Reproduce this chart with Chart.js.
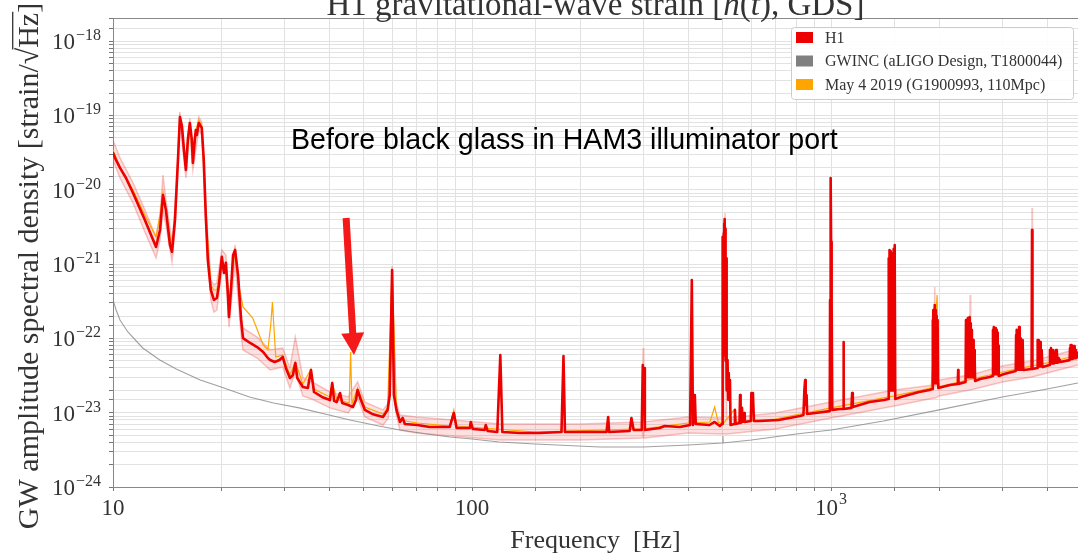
<!DOCTYPE html>
<html><head><meta charset="utf-8">
<script src="https://cdn.jsdelivr.net/npm/chart.js@4.4.1/dist/chart.umd.min.js"></script>
<style>html,body{margin:0;padding:0;background:#fff;overflow:hidden}canvas{display:block}</style>
</head><body>
<canvas id="c" width="1078" height="560"></canvas>
<script>
// ---------- DATA ----------
// H1 spectrum, 10-490 Hz
const h1LowFreq = [
 10,10.19,10.46,10.87,11.37,12.27,13.18,13.52,13.78,14.04,
 14.41,14.6,14.88,15.17,15.36,15.56,15.76,15.96,16.16,16.37,
 16.58,16.69,16.9,17.01,17.12,17.34,17.67,17.9,18.13,18.37,
 18.73,19.1,19.47,19.73,20.1,20.37,20.63,20.9,21.04,21.31,
 21.6,21.88,22.3,22.74,23.02,24.1,25.2,26.2,27.0,27.4,
 28.2,29.1,29.7,30.3,31.1,31.7,32.2,32.6,33.8,34.9,
 35.6,36.3,38.2,40.2,40.8,41.3,42.0,42.9,43.5,45.2,
 46.6,47.5,48.0,48.8,50.3,52.7,56.5,58.2,59.0,59.9,
 60.6,61.6,63.0,64.1,65.0,70.4,76.2,86.7,89.0,90.6,
 98.6,99.2,100.5,108.5,109.2,110.5,117.6,119.9,121.5,136,
 154,177.5,179.8,181.5,213,237,239.5,241,275,278,
 282,297,299,300.5,301.5,303,333,344,379,405,
 409.5,412.5,417.5,420,459,474,490];
const h1LowVal = [
 3.13e-20,2.52e-20,1.97e-20,1.44e-20,9.06e-21,3.93e-21,1.7e-21,2.88e-21,8.51e-21,5.35e-21,
 1.81e-21,1.46e-21,3.93e-21,2.52e-20,9.55e-20,7.23e-20,3.44e-20,1.85e-20,4.68e-20,7.93e-20,
 4.68e-20,2.3e-20,4.68e-20,6.38e-20,5.47e-20,7.93e-20,6.8e-20,2.52e-20,4.58e-21,1.14e-21,
 4.48e-22,3.29e-22,3.5e-22,5.24e-22,1.25e-21,7.59e-22,1.04e-21,3.84e-22,1.94e-22,4.48e-22,
 1.32e-21,1.55e-21,7.13e-22,1.77e-22,1.01e-22,8.67e-23,7.65e-23,6.56e-23,5.44e-23,5.12e-23,
 4.81e-23,5.12e-23,5.62e-23,4.0e-23,2.93e-23,3.21e-23,4.67e-23,2.93e-23,2.22e-23,2.15e-23,
 3.76e-23,1.9e-23,1.63e-23,1.48e-23,2.51e-23,1.44e-23,1.39e-23,1.84e-23,1.35e-23,1.27e-23,
 1.19e-23,1.48e-23,2.02e-23,1.58e-23,1.09e-23,9.61e-24,8.75e-24,1.09e-23,1.73e-23,8.34e-22,
 1.73e-23,1.09e-23,7.5e-24,8.49e-24,7.05e-24,6.83e-24,6.43e-24,6.43e-24,9.91e-24,6.22e-24,
 6.22e-24,7.5e-24,6.04e-24,5.85e-24,6.83e-24,5.68e-24,5.5e-24,5.98e-23,5.5e-24,5.33e-24,
 5.33e-24,5.5e-24,5.79e-23,5.5e-24,5.5e-24,5.5e-24,8.75e-24,5.5e-24,5.68e-24,8.49e-24,
 5.85e-24,5.85e-24,4.39e-23,1.48e-23,4.0e-23,5.85e-24,6.22e-24,6.62e-24,6.43e-24,6.83e-24,
 6.11e-22,6.83e-24,1.73e-23,7.05e-24,6.83e-24,7.5e-24,6.62e-24];
// H1 spectrum, 497-1008 Hz (violin modes, 1 kHz line)
const h1MidFreq = [
 497,498,499,500,501,502,503,504,505,506,
 507,508,509,510,511,512,513,515,517,519,
 521,523,525,538,540,542,556,558,560,565,
 567,573,575,598,600,603,606,610,633,715,
 820,838,843,847,850,855,858,992,994,996,
 998,999,1000.5,1002,1004,1006,1008];
const h1MidVal = [
 7.05e-24,1.55e-21,5e-23,2.32e-21,6e-23,2.6e-21,8e-23,3.5e-21,1e-22,4.05e-21,
 1e-22,3.0e-21,5e-23,1.2e-21,3e-23,2e-22,2e-23,5.12e-23,1.5e-23,3.42e-23,
 1.5e-23,2.75e-23,6.83e-24,7.05e-24,1.09e-23,7.05e-24,7.26e-24,1.73e-23,7.26e-24,1.16e-23,
 7.5e-24,9.91e-24,7.5e-24,7.73e-24,1.84e-23,1.48e-23,1.84e-23,7.73e-24,7.73e-24,7.98e-24,
 9.03e-24,9.31e-24,2.02e-23,2.75e-23,1.27e-23,1.73e-23,9.61e-24,1.05e-23,3.29e-22,2e-23,
 5e-22,1.44e-20,2e-21,3.29e-22,2e-23,3e-22,1.09e-23];
// H1 spectrum, 1060-4870 Hz (harmonic clusters)
const h1HighFreq = [
 1060,1080,1083,1086,1140,1145,1150,1281,1405,
 1445,1448,1451,1454,1457,1460,1463,1466,1469,1472,1475,1478,1481,1484,1487,1490,1493,1496,1499,1502,1505,1507,1510,
 1565,1760,1880,
 1915,1919,1923,1927,1931,1935,1939,1943,1947,1951,1955,1959,1963,1967,1971,1975,1979,1983,1987,1990,
 2145,2255,2260,2265,
 2370,2377,2384,2391,2398,2405,2412,2419,2426,2433,2440,2447,2454,2461,2468,2475,2482,2489,2496,2503,2510,2517,2520,
 2600,2770,
 2820,2826,2832,2838,2844,2850,2856,2862,2868,2874,2880,2886,2892,2898,2904,2910,2916,2922,2928,2935,
 3034,3190,
 3270,3278,3286,3294,3302,3310,3318,3326,3334,3342,3350,3358,3366,3374,3382,3390,3398,3406,3414,3422,3430,3435,
 3620,3630,3640,
 3750,3757,3764,3771,3778,3785,3792,3799,3806,3813,3820,3827,3834,3841,3848,3855,3862,3869,3876,3890,
 4060,4073,4086,4099,4112,4125,4138,4151,4164,4177,4190,4203,4216,4229,4242,4255,4268,4281,4294,4307,4320,4333,4350,
 4620,4632,4644,4656,4668,4680,4692,4704,4716,4728,4740,4752,4764,4776,4788,4800,4812,4824,4836,4848,4860,4870];
const h1HighVal = [
 1.12e-23,1.12e-23,8.95e-23,1.12e-23,1.16e-23,1.84e-23,1.19e-23,1.39e-23,1.48e-23,
 1.53e-23,1.2e-21,2e-23,1.55e-21,2e-23,1.5e-21,2e-23,1.4e-21,2e-23,1.3e-21,2e-23,1.4e-21,2e-23,1.3e-21,2e-23,1.4e-21,2e-23,1.6e-21,2e-23,1.81e-21,2e-23,1.14e-21,1.53e-23,
 1.63e-23,1.9e-23,2.02e-23,
 2.08e-23,1.77e-22,2.5e-23,2.41e-22,2.5e-23,1.3e-22,2.5e-23,2.82e-22,2.5e-23,1.77e-22,2.5e-23,2.41e-22,2.5e-23,2.0e-22,2.5e-23,9.5e-23,2.5e-23,1.77e-22,2.5e-23,2.15e-23,
 2.36e-23,2.43e-23,3.76e-23,2.43e-23,
 2.59e-23,1.77e-22,3e-23,1.3e-22,3e-23,1.88e-22,3e-23,1.51e-22,3e-23,1.94e-22,3e-23,1.6e-22,3e-23,1.3e-22,3e-23,6.98e-23,3e-23,9.5e-23,3e-23,6.98e-23,3e-23,5e-23,2.67e-23,
 2.84e-23,3.02e-23,
 3.12e-23,1.3e-22,3.3e-23,1.42e-22,3.3e-23,1.2e-22,3.3e-23,1.11e-22,3.3e-23,1.38e-22,3.3e-23,9.5e-23,3.3e-23,1.3e-22,3.3e-23,1.2e-22,3.3e-23,8e-23,3.3e-23,3.12e-23,
 3.32e-23,3.53e-23,
 3.64e-23,1.11e-22,3.8e-23,1.3e-22,3.8e-23,1.2e-22,3.8e-23,9.5e-23,3.8e-23,1.42e-22,3.8e-23,1.11e-22,3.8e-23,1e-22,3.8e-23,8.15e-23,3.8e-23,9e-23,3.8e-23,9.5e-23,3.8e-23,3.76e-23,
 3.87e-23,2.88e-21,3.87e-23,
 4.0e-23,8.15e-23,4.2e-23,9.5e-23,4.2e-23,9.5e-23,4.2e-23,6.98e-23,4.2e-23,8.5e-23,4.2e-23,8.95e-23,4.2e-23,7.5e-23,4.2e-23,6.98e-23,4.2e-23,6.98e-23,4.2e-23,4.12e-23,
 4.39e-23,6.98e-23,4.6e-23,7.43e-23,4.6e-23,5.5e-23,4.6e-23,6.98e-23,4.6e-23,6.5e-23,4.7e-23,5.98e-23,4.7e-23,6.98e-23,4.7e-23,6.98e-23,4.7e-23,5.44e-23,4.8e-23,5.44e-23,4.8e-23,5.2e-23,4.81e-23,
 5.1e-23,7.43e-23,5.3e-23,8.15e-23,5.3e-23,8.15e-23,5.3e-23,6.56e-23,5.3e-23,6.56e-23,5.4e-23,7.9e-23,5.4e-23,7.9e-23,5.4e-23,6.98e-23,5.5e-23,6.5e-23,5.5e-23,5.98e-23,5.6e-23,5.79e-23];

// H1 percentile band (upper / lower edges)
const bandFreq = [10,10.46,11.37,12.27,13.18,13.52,13.78,14.04,14.6,14.88,
 15.36,15.96,16.37,16.69,17.34,17.67,18.13,18.73,19.1,19.47,
 20.1,20.63,21.04,21.88,22.74,23.02,25.2,27.4,29.7,31.1,
 32.2,33.8,36.3,40.2,45.2,48.0,50.3,56.5,58.5,59.9,
 61.3,63,70,120,200,298,299.5,301,400,500,
 507,512,700,1000,1500,1935,1945,1955,2000,2430,
 2440,2450,3000,3620,3630,3640,4000,4870];
const bandHi = [4.68e-20,2.68e-20,1.24e-20,5.35e-21,2.32e-21,4.58e-21,1.58e-20,7.3e-21,1.98e-21,5.35e-21,
 1.11e-19,2.52e-20,9.25e-20,2.94e-20,9.55e-20,8.18e-20,6.24e-21,6.11e-22,5.24e-22,5.57e-22,
 1.55e-21,1.32e-21,2.82e-22,1.81e-21,2.26e-22,1.38e-22,1.04e-22,6.98e-23,7.43e-23,4.0e-23,
 1.04e-22,2.93e-23,2.51e-23,1.9e-23,1.63e-23,2.59e-23,1.39e-23,1.09e-23,1.35e-23,9.42e-22,
 1.48e-23,9.31e-24,8.75e-24,7.05e-24,7.05e-24,7.5e-24,7.43e-23,7.5e-24,8.75e-24,8.49e-24,
 4.88e-21,8.49e-24,9.91e-24,1.39e-23,2.02e-23,2.36e-23,4.92e-22,2.36e-23,2.75e-23,3.21e-23,
 3.84e-22,3.21e-23,4.26e-23,4.97e-23,5.69e-21,4.97e-23,5.62e-23,7.19e-23];
const bandLo = [2.52e-20,1.44e-20,6.64e-21,2.7e-21,1.21e-21,2.11e-21,5.35e-21,3.36e-21,1.07e-21,2.88e-21,
 8.18e-20,1.44e-20,6.38e-20,1.85e-20,6.38e-20,5.47e-20,3.36e-21,3.29e-22,2.26e-22,2.41e-22,
 8.87e-22,7.13e-22,1.42e-22,1.07e-21,1.11e-22,6.98e-23,5.44e-23,3.76e-23,4.12e-23,2.15e-23,
 3.53e-23,1.68e-23,1.48e-23,1.16e-23,9.91e-24,1.58e-23,8.75e-24,6.83e-24,8.49e-24,6.11e-22,
 1.02e-23,5.85e-24,5.33e-24,4.29e-24,4.29e-24,4.56e-24,5.85e-24,4.56e-24,5.33e-24,5.16e-24,
 5.16e-24,5.16e-24,6.04e-24,8.49e-24,1.23e-23,1.58e-23,1.58e-23,1.58e-23,1.68e-23,2.02e-23,
 2.02e-23,2.02e-23,2.59e-23,3.02e-23,3.02e-23,3.02e-23,3.42e-23,4.39e-23];

// May 4 2019 reference
const mayFreq = [10,10.46,11.37,12.27,13.18,13.52,13.78,14.04,14.6,14.88,
 15.17,15.36,15.56,15.96,16.37,16.69,17.01,17.34,17.67,18.13,
 18.73,19.1,19.47,20.1,20.37,20.63,21.04,21.88,22.4,23.02,
 24.5,26.2,27.0,27.5,27.8,28.1,28.4,29.7,31.1,32.2,
 33.8,35.6,36.3,40.2,40.8,42.0,45.5,45.9,46.3,48.0,
 50.3,56.5,58.2,59.9,61.6,63.0,70.4,86.7,89.0,90.6,
 150,300,400,460,474,485,500,537,545,700,
 1000,1500,1900,1975,1990,3000,4000,4870];
const mayVal = [3.44e-20,2.03e-20,9.94e-21,4.58e-21,2.32e-21,4.58e-21,9.33e-21,5.35e-21,1.55e-21,3.93e-21,
 2.52e-20,9.55e-20,7.23e-20,1.85e-20,7.93e-20,2.3e-20,6.38e-20,8.69e-20,7.23e-20,5.02e-21,
 5.24e-22,4.48e-22,4.48e-22,1.25e-21,8.87e-22,1.04e-21,3.29e-22,1.46e-21,5.24e-22,2.65e-22,
 1.88e-22,8.15e-23,6.98e-23,1.51e-22,3.09e-22,1.3e-22,5.62e-23,5.98e-23,3.21e-23,4.81e-23,
 2.43e-23,3.87e-23,2.08e-23,1.63e-23,2.51e-23,1.53e-23,1.35e-23,6.56e-23,1.31e-23,2.15e-23,
 1.19e-23,9.61e-24,1.16e-23,7.83e-22,1.16e-23,7.98e-24,7.26e-24,6.62e-24,1.09e-23,6.62e-24,
 5.5e-24,6.04e-24,7.26e-24,7.5e-24,1.19e-23,7.5e-24,7.05e-24,1.09e-23,7.5e-24,8.22e-24,
 1.16e-23,1.68e-23,2.15e-23,3.84e-22,2.22e-23,3.53e-23,4.67e-23,5.98e-23];

// GWINC design curve
const gwFreq = [10,10.2,10.46,11,12.1,13.5,15,17.5,20,24,28,33,40,45.7,55,63,75,86.7,100,119,
 150,227,300,400,499,500,501,600,800,1000,1400,2000,3000,4000,4870];
const gwVal = [3.29e-22,2.41e-22,1.77e-22,1.22e-22,7.43e-23,5.12e-23,3.87e-23,2.75e-23,2.22e-23,1.63e-23,
 1.35e-23,1.16e-23,9.31e-24,7.98e-24,6.62e-24,5.85e-24,5.16e-24,4.71e-24,4.43e-24,4.04e-24,
 3.79e-24,3.45e-24,3.45e-24,3.67e-24,3.91e-24,4.85e-24,3.91e-24,4.29e-24,5.16e-24,5.85e-24,
 7.73e-24,1.09e-23,1.63e-23,2.08e-23,2.51e-23];

const seriesNames = ['H1', 'GWINC (aLIGO Design, T1800044)', 'May 4 2019 (G1900993, 110Mpc)'];
const yTickExps = [-24,-23,-22,-21,-20,-19,-18];
const xTickVals = [10, 100, 1000];
const xTickBase = ['10', '100', '10'];
const xTickSup = ['', '', '3'];
const annotText = 'Before black glass in HAM3 illuminator port';
const annotAt = [31.3, 3.54e-20];
const arrowFrom = [44.6, 4.17e-21];
const arrowTo = [46.9, 5.98e-23];

const h1Freq = [...h1LowFreq, ...h1MidFreq, ...h1HighFreq];
const h1Val = [...h1LowVal, ...h1MidVal, ...h1HighVal];

// ---------- CHART ----------
const xy = (fs, vs) => fs.map((f, i) => ({x: f, y: vs[i]}));
const RED = 'rgb(236,0,0)', GRAY = '#808080', ORANGE = '#ffa500';
const SERIF = '"Liberation Serif", "Times New Roman", serif';

const decor = {
  id: 'decor',
  afterDraw(chart) {
    const {ctx, chartArea: a, scales: {x, y}} = chart;
    ctx.save();
    ctx.strokeStyle = '#888'; ctx.lineWidth = 1;
    ctx.beginPath(); ctx.moveTo(a.left, a.top + 0.5); ctx.lineTo(a.right, a.top + 0.5); ctx.stroke();

    ctx.fillStyle = '#333'; ctx.textBaseline = 'alphabetic'; ctx.textAlign = 'left';
    const BASE = '23px ' + SERIF, SUP = '16px ' + SERIF;
    yTickExps.forEach(e => {
      const py = y.getPixelForValue(Math.pow(10, e));
      const sup = '\u2212' + Math.abs(e);
      ctx.font = SUP; const ws = ctx.measureText(sup).width;
      ctx.font = BASE; const wb = ctx.measureText('10').width;
      const right = a.left - 12;
      ctx.font = BASE; ctx.fillText('10', right - ws - 1 - wb, py + 8);
      ctx.font = SUP; ctx.fillText(sup, right - ws, py - 1);
    });
    xTickVals.forEach((v, i) => {
      const px = x.getPixelForValue(v);
      ctx.font = BASE; const wb = ctx.measureText(xTickBase[i]).width;
      ctx.font = SUP; const ws = xTickSup[i] ? ctx.measureText(xTickSup[i]).width + 1 : 0;
      const left = px - (wb + ws) / 2;
      ctx.font = BASE; ctx.fillText(xTickBase[i], left, a.bottom + 28);
      if (xTickSup[i]) { ctx.font = SUP; ctx.fillText(xTickSup[i], left + wb + 1, a.bottom + 17); }
    });
    ctx.font = '26px ' + SERIF; ctx.textAlign = 'center';
    ctx.fillText('Frequency  [Hz]', (a.left + a.right) / 2, a.bottom + 61);
    // y title with sqrt overline
    ctx.save();
    ctx.translate(38, 266); ctx.rotate(-Math.PI / 2);
    ctx.font = '30px ' + SERIF; ctx.textAlign = 'left';
    const p1 = 'GW amplitude spectral density [strain/', p2 = '\u221A', p3 = 'Hz', p4 = ']';
    const w1 = ctx.measureText(p1).width, w2 = ctx.measureText(p2).width,
          w3 = ctx.measureText(p3).width, w4 = ctx.measureText(p4).width;
    let sx = -(w1 + w2 + w3 + w4) / 2;
    ctx.fillText(p1, sx, 0); sx += w1;
    ctx.fillText(p2, sx, 0); const ox = sx + w2 * 0.9; sx += w2;
    ctx.fillText(p3, sx, 0);
    ctx.strokeStyle = '#333'; ctx.lineWidth = 1.3;
    ctx.beginPath(); ctx.moveTo(ox, -25.3); ctx.lineTo(sx + w3 + 1, -25.3); ctx.stroke();
    sx += w3; ctx.fillText(p4, sx, 0);
    ctx.restore();
    // title (cropped at top)
    const tparts = [['H1 gravitational-wave strain [', ''], ['h', 'italic '], ['(', ''], ['t', 'italic '], ['), GDS]', '']];
    let tw = 0;
    tparts.forEach(p => { ctx.font = p[1] + '33px ' + SERIF; tw += ctx.measureText(p[0]).width; });
    let tx = (a.left + a.right) / 2 - tw / 2;
    ctx.textAlign = 'left';
    tparts.forEach(p => { ctx.font = p[1] + '33px ' + SERIF; ctx.fillText(p[0], tx, 15); tx += ctx.measureText(p[0]).width; });

    // legend
    const lx = a.right - 287, ly = a.top + 9, lw = 282, lh = 72;
    ctx.beginPath(); ctx.roundRect(lx + 0.5, ly + 0.5, lw, lh, 3);
    ctx.fillStyle = 'rgba(255,255,255,0.9)'; ctx.fill();
    ctx.strokeStyle = '#cccccc'; ctx.lineWidth = 1; ctx.stroke();
    const cols = [RED, GRAY, ORANGE];
    ctx.font = '16px ' + SERIF;
    seriesNames.forEach((n, i) => {
      const ry = ly + 5 + i * 23.5;
      ctx.fillStyle = cols[i]; ctx.fillRect(lx + 5, ry, 17, 11);
      ctx.fillStyle = '#333'; ctx.fillText(n, lx + 34, ry + 10.5);
    });

    // annotation text
    ctx.fillStyle = '#000'; ctx.font = '28.6px "Liberation Sans", Arial, sans-serif';
    ctx.fillText(annotText, x.getPixelForValue(annotAt[0]), y.getPixelForValue(annotAt[1]));

    // arrow
    const t0x = x.getPixelForValue(arrowFrom[0]), t0y = y.getPixelForValue(arrowFrom[1]);
    const t1x = x.getPixelForValue(arrowTo[0]), t1y = y.getPixelForValue(arrowTo[1]);
    const dx = t1x - t0x, dy = t1y - t0y, L = Math.hypot(dx, dy), ux = dx / L, uy = dy / L, nx = -uy, ny = ux;
    const hl = 22, hw = 11.5, bx = t1x - ux * hl, by = t1y - uy * hl;
    ctx.strokeStyle = 'rgb(245,25,25)'; ctx.fillStyle = 'rgb(245,25,25)';
    ctx.lineWidth = 7; ctx.lineCap = 'butt';
    ctx.beginPath(); ctx.moveTo(t0x, t0y); ctx.lineTo(bx + ux * 2, by + uy * 2); ctx.stroke();
    ctx.beginPath(); ctx.moveTo(t1x, t1y); ctx.lineTo(bx + nx * hw, by + ny * hw); ctx.lineTo(bx - nx * hw, by - ny * hw); ctx.closePath(); ctx.fill();
    ctx.restore();
  }
};

const gridCommon = {color: '#e2e2e2', lineWidth: 1, tickColor: '#777', tickLength: 4, drawTicks: true};

new Chart(document.getElementById('c'), {
  type: 'line',
  data: {
    datasets: [
      {label: seriesNames[0], data: xy(h1Freq, h1Val), borderColor: RED, borderWidth: 2.6,
       pointRadius: 0, tension: 0, fill: false, borderJoinStyle: 'round', borderCapStyle: 'round', order: 0},
      {label: seriesNames[2], data: xy(mayFreq, mayVal), borderColor: ORANGE, borderWidth: 1.2,
       pointRadius: 0, tension: 0, fill: false, order: 1},
      {label: seriesNames[1], data: xy(gwFreq, gwVal), borderColor: 'rgba(128,128,128,0.75)', borderWidth: 1.1,
       pointRadius: 0, tension: 0, fill: false, order: 2},
      {label: 'band hi', data: xy(bandFreq, bandHi), borderColor: 'rgba(235,90,90,0.35)', borderWidth: 1.5,
       backgroundColor: 'rgba(240,70,70,0.16)', pointRadius: 0, tension: 0, fill: '+1', order: 3},
      {label: 'band lo', data: xy(bandFreq, bandLo), borderColor: 'rgba(235,90,90,0.35)', borderWidth: 1.5,
       pointRadius: 0, tension: 0, fill: false, order: 4}
    ]
  },
  options: {
    responsive: false, animation: false, devicePixelRatio: 1,
    layout: {padding: {top: 18, left: 0, right: 0, bottom: 0}},
    plugins: {legend: {display: false}, title: {display: false}, tooltip: {enabled: false}},
    scales: {
      x: {type: 'logarithmic', min: 10, max: 4875,
          grid: gridCommon, border: {display: true, color: '#888', width: 1},
          ticks: {display: false, autoSkip: false},
          afterFit(s) { s.height = 73; }},
      y: {type: 'logarithmic', min: 1e-24, max: 2.05e-18,
          grid: gridCommon, border: {display: true, color: '#888', width: 1},
          ticks: {display: false, autoSkip: false},
          afterFit(s) { s.width = 113; }}
    }
  },
  plugins: [decor]
});
</script>
</body></html>
